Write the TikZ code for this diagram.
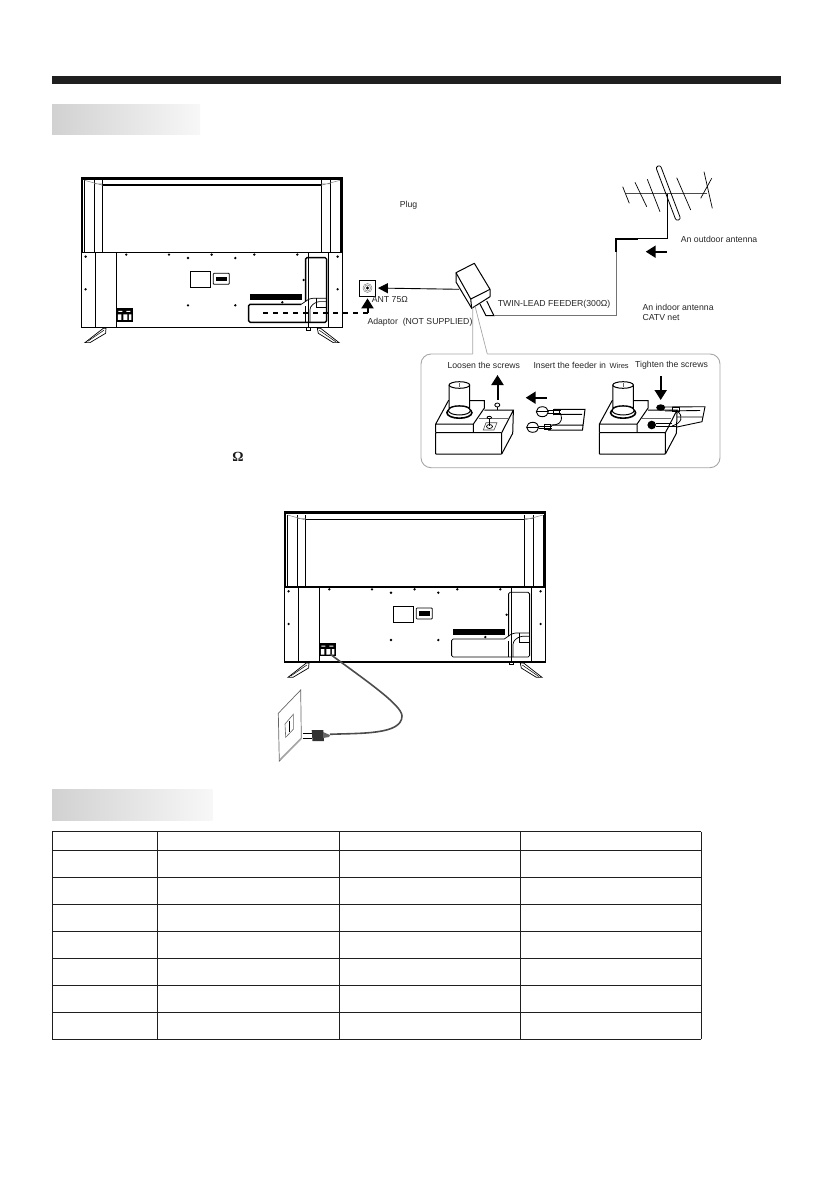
\documentclass[tikz,border=0pt]{standalone}
\usepackage{fontspec}
\setmainfont{Liberation Sans}
\newfontfamily\omegafont{Liberation Serif}
\usetikzlibrary{arrows.meta}
\tikzset{
  label text/.style={anchor=west, inner sep=0pt, text=black!85, font=\fontsize{8.7}{10}\selectfont},
  fat arrow/.style={line width=2pt, -{Triangle[length=10pt,width=12pt]}},
  thin arrow/.style={line width=0.9pt, -{Triangle[length=10pt,width=10pt]}},
  tvback/.pic={
    % Frame
    \draw[line width=1.2pt] (0,0) rectangle (261.5,150);
    \fill (0,0) rectangle (261.5,\tvedge);
    \fill (261.5-\tvedge,0) rectangle (261.5,75);
    \fill (0,0) rectangle (1.6,75);
    \fill (21.3,6.7) rectangle (240,8.2);
    \draw[line width=1.1pt] (0,75) -- (261.5,75);
    \foreach \x in {3.3,13,21.3,240,249,258.7} {
      \draw[line width=0.7pt] (\x,3) -- (\x,75);
    }
    \foreach \x in {14,35,227,247} {
      \draw[line width=0.7pt] (\x,75) -- (\x,150);
    }
    \draw[black!50, line width=0.5pt] (3.3,3) -- (21.3,8) (13,6.5) -- (21.3,6.5);
    \draw[black!50, line width=0.5pt] (258.7,3) -- (240,8) (249,6.5) -- (240,6.5);
    % Screws
    \foreach \x/\y in {4.3/79.3, 4.3/112, 45/77.3, 87.7/77.3, 106.7/80.7, 130.3/77.3, 154/80.7,
                       173/77.3, 216/77.3, 256.3/79.3, 256.3/112, 106.7/128, 154/128, 222.3/102.7, 201/125} {
      \fill (\x,\y) circle (1.3pt);
    }
    % Label and ports
    \draw[line width=0.7pt] (109,94) rectangle (129,110.3);
    \draw[line width=0.8pt, rounded corners=0.8pt] (132,96) rectangle (148,107);
    \fill (134.3,99.3) rectangle (146,104);
    \fill (35.3,131) rectangle (51.3,144.3);
    \fill[white] (37,133.5) rectangle (41,134.5) (45,133.5) rectangle (49,134.5);
    \fill[white] (36.5,137) rectangle (40,142.5) (42,137) rectangle (46,142.5) (47.5,137) rectangle (50,142.5);
    \fill (168.7,116.7) rectangle (220.3,122.7);
    % Side panel
    \draw[line width=\tvedge*0.5pt, rounded corners=1.5pt] (224.3,124) -- (224.3,80.3) -- (245.3,80.3) -- (245.3,145) -- (167.3,145) -- (167.3,127) -- (220,127);
    \draw[line width=0.7pt, rounded corners=3pt] (220,127) -- (224.3,124) -- (228.7,121) -- (245.3,121);
    \draw[line width=0.7pt, rounded corners=3pt] (228.7,145) -- (228.7,129.4) -- (235.3,124.3) -- (245.3,124.3);
    \draw[line width=0.7pt] (223.7,129) -- (223.7,145) (235,120.5) -- (235,130) -- (245.3,130);
    \draw[line width=0.5pt] (224.5,150) rectangle (229,152.5);
    % Stands
    \draw[line width=0.7pt, fill=white] (22,151) -- (24.7,151) -- (24.3,156) -- (8.7,165.3) -- (3.7,165.3) -- cycle;
    \draw[line width=0.5pt] (6.5,164) -- (22.5,153);
    \draw[line width=0.7pt, fill=white] (236,151) -- (239.3,151) -- (257.7,165.3) -- (252,165.3) -- (237,156) -- cycle;
    \draw[line width=0.5pt] (238,153) -- (254.5,164.5);
  },
  ftbase/.pic={
    % Block
    \draw[line width=1pt, rounded corners=0.5pt] (0,8.7) rectangle (66,30);
    \draw[line width=1pt] (0,8.7) -- (0,0) -- (12.7,-23.3) -- (48.7,-23.3) -- (48.7,-16) -- (37.7,0) -- (37.7,8.7) (0,0) -- (37.7,0);
    \draw[line width=1pt] (48.7,-14) -- (77.7,-14) -- (66,8.7) (77.7,-14) -- (77,9.3) -- (66,30);
    \draw[black!60, line width=0.5pt] (43,-6) -- (72,-6);
    % Cylinder
    \draw[line width=1.6pt, fill=white] (23.7,-11.3) ellipse (12.5pt and 5.5pt);
    \draw[line width=1pt, fill=white] (23.7,-13.5) ellipse (11pt and 4.5pt);
    \draw[line width=1pt, fill=white] (13.4,-39) -- (13.4,-15) arc[start angle=180, end angle=360, x radius=10.3, y radius=3.3] -- (34,-39);
    \draw[line width=1pt, fill=white] (23.7,-39) ellipse (10.3pt and 3.3pt);
    \draw[black!60, line width=0.4pt] (23.7,-41) -- (23.7,-37.5);
  }
}
\begin{document}
\begin{tikzpicture}[x=1pt, y=-1pt]
  \useasboundingbox (0,0) rectangle (839,1191);
  % Headers
  \fill[black!88] (52,76) rectangle (781,84);
  \shade[left color=black!18, right color=black!3] (52,104) rectangle (200,134);
  \shade[left color=black!18, right color=black!3] (52,789) rectangle (212.5,820);
  % Sets
  \def\tvedge{2.8}
  \path (81.3,177.3) pic {tvback};
  \def\tvedge{1.6}
  \path (284.3,512) pic {tvback};
  % Aerial socket
  \node[draw, line width=0.8pt, minimum size=16pt, inner sep=0pt] (antsocket) at (367.5,288) {};
  \draw[black!50, line width=0.5pt] (antsocket.center) circle (4.5pt);
  \draw[black!50, line width=0.5pt] (antsocket.center) circle (3pt);
  \fill (antsocket.center) circle (1.6pt);
  \coordinate (dashstart) at (263,313);
  \coordinate (dashend) at (367.5,313);
  \draw[line width=1.3pt, dash pattern=on 5pt off 5pt] (dashstart) -- (dashend);
  \draw[fat arrow, shorten >=2pt] (dashend) -- (antsocket.south);
  % Adaptor
  \draw[line width=1pt, line join=round] (456,272.7) -- (474.3,263.3) -- (490,289.3) -- (490,296.7) -- (471.7,308.3) -- (456,282) -- cycle;
  \draw[line width=1pt] (456,272.7) -- (470.7,299) -- (490,289.3) (470.7,299) -- (471.7,308.3);
  \draw[line width=1pt] (480,304) -- (486,315.7) -- (494,315.7) -- (486.7,301);
  \coordinate (adaptorport) at (459,289.3);
  \draw[thin arrow, shorten >=2pt] (adaptorport) -- (antsocket.east);
  % Feeder
  \coordinate (feedstart) at (494,315.7);
  \coordinate (feedcorner) at (616,315.7);
  \coordinate (feedtop) at (616,251.7);
  \draw[black!55, line width=1pt] (feedstart) -- (feedcorner) -- (feedtop);
  \draw[line width=1.6pt] (feedtop) -- (616,238.7) -- (637.7,238.7);
  \draw[line width=0.8pt] (637.7,238.7) -- (667.3,238.7) -- (667.3,193.3);
  % Antenna
  \draw[black!70, line width=0.8pt] (626,193.3) -- (706.7,193.3);
  \foreach \xa/\ya/\xb/\yb in {622.7/186.7/629.3/203.3, 635/182.3/646.7/206.7, 647.3/179.3/660/211.7, 676.7/177.7/690.7/210, 704/171.7/712.3/208.3, 711.7/178.3/700.7/198.3} {
    \draw[line width=0.7pt] (\xa,\ya) -- (\xb,\yb);
  }
  \draw[line width=0.8pt, rounded corners=2.4pt] (655.7,166.9) -- (660.3,165.1) -- (680.8,219.1) -- (676.2,220.9) -- cycle;
  \draw[fat arrow] (666.7,251.7) -- (645.7,251.7);
  % Inset
  \draw[black!35, line width=0.9pt, rounded corners=10pt] (472.7,354) -- (421,354) -- (421,467.7) -- (720,467.7) -- (720,354) -- (487.3,354);
  \draw[black!35, line width=0.7pt] (472.7,307) -- (472.7,354) (475,306) -- (487.3,354);
  \path (435.7,424) pic {ftbase};
  \path (599.4,424) pic {ftbase};
  % Left unit
  \draw[line width=1pt] (497.3,405) -- (497.3,410);
  \draw[line width=0.8pt, fill=white] (497.3,405) ellipse (2.5pt and 2pt);
  \draw[black!70, line width=0.6pt] (486,422.7) -- (497,422.7) -- (494,430) -- (483.3,430) -- cycle;
  \draw[line width=0.7pt] (489.5,426.5) ellipse (3pt and 2pt);
  \draw[line width=1.2pt] (489.3,418) -- (489.3,426);
  \draw[line width=0.8pt, fill=white] (489.3,417.5) ellipse (2.2pt and 1.2pt);
  \draw[fat arrow] (497.5,400) -- (497.5,375);
  \draw[fat arrow] (546.7,397.7) -- (525.7,397.7);
  % Feeder ends
  \foreach \xh/\yh/\xc in {542.3/411.7/553, 532.7/427.3/544} {
    \draw[line width=0.9pt, fill=white] (\xh,\yh) ellipse (6pt and 5pt);
    \draw[line width=0.7pt] (\xh-6,\yh) -- (\xh+6,\yh);
    \draw[line width=0.8pt] (\xh+6,\yh-1) -- (\xc+8,\yh-1) (\xh+6,\yh+1.5) -- (\xc+8,\yh+1.5) (\xc,\yh-2.5) rectangle (\xc+6,\yh+2.5);
  }
  \draw[line width=1pt] (553,409.5) -- (585,409.3) -- (582.5,430) -- (548,430) (553,414.5) -- (582,414.3) (550,425) -- (583,425);
  \draw[line width=0.8pt] (561,415) .. controls (563,423) and (558,425) .. (552,425);
  % Right unit
  \draw[fat arrow] (660.7,376) -- (660.7,400);
  \fill (660.7,407.5) ellipse (4.5pt and 3.2pt);
  \fill (651.7,425) circle (4.3pt);
  \draw[line width=0.9pt] (665,407) -- (705,406.7) -- (702,421.7) -- (677,427) (665,411) -- (700,410.5) (677,417) -- (702,417);
  \draw[line width=0.9pt] (656,423) -- (672,423) (656,426.5) -- (677,426.5);
  \draw[line width=0.8pt] (677,411) .. controls (684,416) and (682,423) .. (672,426);
  \draw[line width=0.8pt] (672,407) rectangle (679,411);
  % Power lead
  \coordinate (leadstart) at (330,654);
  \coordinate (leadend) at (330,734.3);
  \draw[black!70, line width=1.6pt] (leadstart) .. controls (365,680) and (402,705) .. (402,716) .. controls (402,735) and (360,733) .. (leadend);
  % Wall plate
  \draw[black!60, line width=0.7pt, fill=white] (278.3,713.3) -- (300.7,690) -- (301.3,738.3) -- (279.3,761) -- cycle;
  \draw[black!35, line width=1.6pt] (279.8,760) -- (301,738.8);
  \draw[black!60, line width=0.6pt] (285,724) -- (293.3,714.3) -- (293.3,729.3) -- (285.7,737.3) -- cycle;
  \draw[line width=1pt] (289.5,721) -- (289.5,731.5);
  % Plug
  \draw[line width=1.2pt] (302.7,733.3) -- (312,733.3) (302.7,738.5) -- (312,738.5);
  \fill[black!80] (311.7,730) -- (323.3,730) -- (324,741) -- (312.5,741) -- cycle;
  \fill[black!60] (323,732) -- (330,735) -- (329,737) -- (323,738) -- cycle;
  % Table
  \foreach \y in {831.7, 850.3, 877.3, 904.3, 931.3, 958.3, 985.3, 1012.3, 1039.3} {
    \draw[black!88, line width=1pt] (52,\y) -- (701,\y);
  }
  \foreach \x in {52, 157.5, 339, 520, 701} {
    \draw[black!88, line width=1pt] (\x,831.7) -- (\x,1039.3);
  }
  % Text
  \node[label text] (plugtext) at (399.7,205.7) {Plug};
  \node[label text] (anttext) at (371.7,300) {ANT 75Ω};
  \node[label text] (adaptortext) at (367.3,322.5) {Adaptor\ \ (NOT SUPPLIED)};
  \node[label text] (feedertext) at (497.7,304) {TWIN-LEAD FEEDER(300Ω)};
  \node[label text] (outdoortext) at (680.7,239) {An outdoor antenna};
  \node[label text] (indoortext) at (642.3,307.7) {An indoor antenna};
  \node[label text] (catvtext) at (642.3,317.7) {CATV net};
  \node[label text] (loosentext) at (447.3,365) {Loosen the screws};
  \node[label text] (inserttext) at (533.3,365) {Insert the feeder in};
  \node[label text, font=\fontsize{7.5}{9}\selectfont] (wirestext) at (609.3,365.5) {Wires};
  \node[label text] (tightentext) at (635,365) {Tighten the screws};
  \node[anchor=center, inner sep=0pt, text=black!90, font=\omegafont\bfseries\fontsize{14}{16}\selectfont] (ohmtext) at (238,457) {Ω};
\end{tikzpicture}
\end{document}
